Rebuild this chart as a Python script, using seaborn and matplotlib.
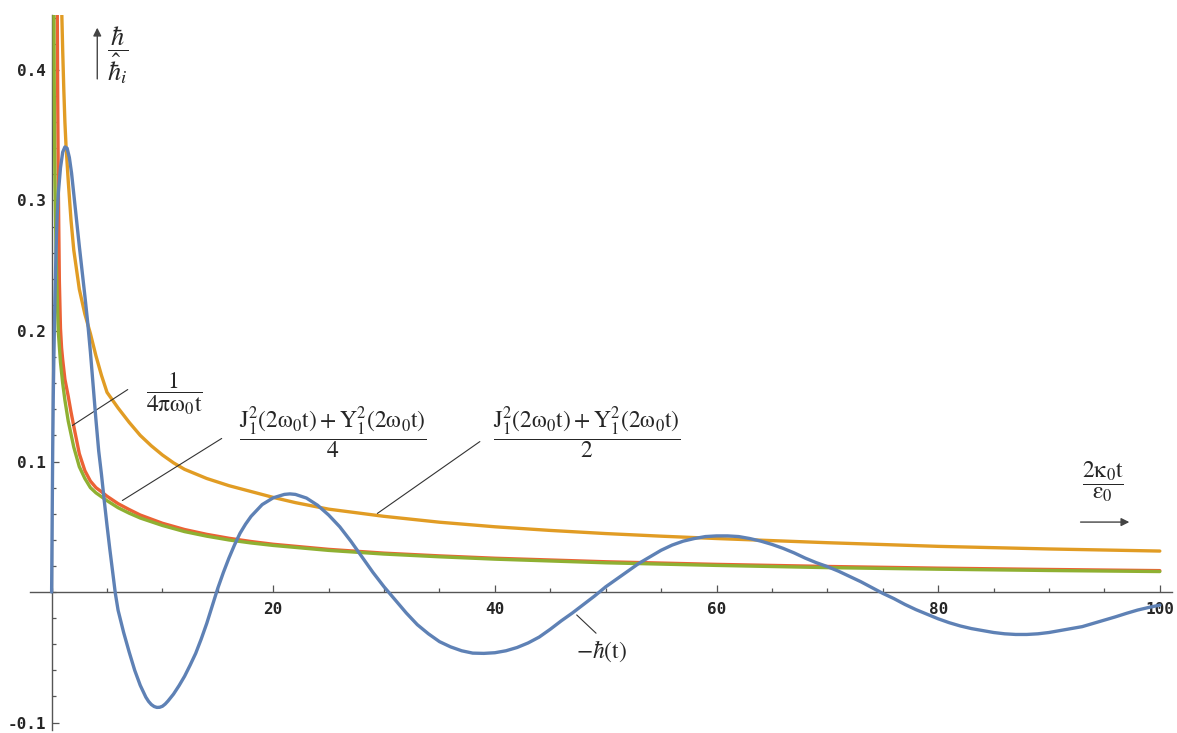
import matplotlib
matplotlib.use("Agg")
import matplotlib.pyplot as plt
import matplotlib.ticker as mticker
import seaborn as sns

# ---------------------------------------------------------------
# values
# ---------------------------------------------------------------
# blue: -hbar(t), oscillating response
blue_t = [0, 0.05, 0.1, 0.15, 0.2, 0.3, 0.4, 0.5, 0.6, 0.8, 1.0, 1.2, 1.4, 1.6, 1.8,
          2.0, 2.25, 2.5, 2.75, 3.0, 3.25, 3.5, 3.75, 4.0, 4.25, 4.5, 4.75, 5.0, 5.25,
          5.5, 5.75, 6.0, 6.5, 7.0, 7.5, 8.0, 8.5, 8.75, 9.0, 9.25, 9.5, 9.75, 10,
          10.25, 10.5, 11, 11.5, 12, 12.5, 13, 13.5, 14, 14.5, 15, 15.5, 16, 16.5, 17,
          17.5, 18, 19, 20, 21, 21.5, 22, 23, 24, 25, 26, 27, 28, 29, 30, 31, 32, 33,
          34, 35, 36, 37, 38, 39, 40, 41, 42, 43, 44, 45, 46, 47, 48, 49, 50, 51, 52,
          53, 54, 55, 56, 57, 58, 59, 60, 61, 62, 63, 64, 65, 66, 67, 68, 69, 70, 71,
          72, 73, 74, 75, 76, 77, 78, 79, 80, 81, 82, 83, 84, 85, 86, 87, 88, 89, 90,
          91, 92, 93, 94, 95, 96, 97, 98, 99, 100]
blue_h = [0, 0.06, 0.11, 0.15, 0.178, 0.225, 0.262, 0.288, 0.305, 0.325, 0.337, 0.341,
          0.340, 0.333, 0.321, 0.305, 0.285, 0.265, 0.246, 0.227, 0.207, 0.184, 0.158,
          0.132, 0.108, 0.090, 0.070, 0.051, 0.033, 0.016, -0.001, -0.014, -0.031,
          -0.046, -0.060, -0.0715, -0.0805, -0.0838, -0.0862, -0.0877, -0.0884,
          -0.0883, -0.0875, -0.0858, -0.0835, -0.0782, -0.0717, -0.0645, -0.056,
          -0.047, -0.036, -0.024, -0.0105, 0.003, 0.015, 0.026, 0.036, 0.045, 0.052,
          0.058, 0.067, 0.0722, 0.0748, 0.0752, 0.0748, 0.072, 0.0665, 0.059, 0.050,
          0.039, 0.027, 0.015, 0.004, -0.006, -0.016, -0.025, -0.032, -0.038, -0.042,
          -0.045, -0.0468, -0.047, -0.0465, -0.045, -0.0425, -0.039, -0.0345, -0.0285,
          -0.022, -0.016, -0.0095, -0.003, 0.004, 0.010, 0.016, 0.022, 0.027, 0.032,
          0.036, 0.039, 0.041, 0.0425, 0.043, 0.043, 0.0425, 0.041, 0.039, 0.0365,
          0.0335, 0.030, 0.026, 0.0225, 0.0195, 0.016, 0.012, 0.008, 0.0035, -0.001,
          -0.005, -0.0095, -0.0135, -0.017, -0.0205, -0.0235, -0.026, -0.028, -0.0295,
          -0.031, -0.032, -0.0325, -0.0325, -0.032, -0.031, -0.0295, -0.028, -0.0265,
          -0.024, -0.0215, -0.019, -0.0163, -0.0138, -0.0118, -0.0100]

# orange: (J1^2 + Y1^2) / 2
orange_t = [0.9, 1.0, 1.1, 1.2, 1.3, 1.5, 1.75, 2.0, 2.5, 3.0, 3.5, 4.0, 4.5, 5.0, 6, 7,
            8, 9, 10, 11, 12, 14, 16, 18, 20, 22, 25, 30, 35, 40, 45, 50, 55, 60, 70,
            80, 90, 100]
orange_h = [0.45, 0.415, 0.385, 0.36, 0.342, 0.315, 0.285, 0.262, 0.232, 0.213, 0.198,
            0.181, 0.166, 0.153, 0.141, 0.13, 0.12, 0.112, 0.105, 0.099, 0.094, 0.087,
            0.0815, 0.077, 0.0725, 0.0685, 0.0635, 0.058, 0.0535, 0.050, 0.0472,
            0.0448, 0.0428, 0.041, 0.0378, 0.035, 0.033, 0.0314]

# red: (J1^2 + Y1^2) / 4
red_t = [0.5, 0.55, 0.6, 0.7, 0.8, 0.9, 1.0, 1.2, 1.5, 1.75, 2.0, 2.5, 3.0, 3.5, 4.0,
         4.5, 5, 6, 7, 8, 10, 12, 14, 16, 18, 20, 25, 30, 35, 40, 50, 60, 70, 80, 90, 100]
red_h = [0.46, 0.38, 0.315, 0.238, 0.202, 0.187, 0.178, 0.163, 0.150, 0.138, 0.127,
         0.106, 0.093, 0.085, 0.0800, 0.0768, 0.0734, 0.0677, 0.0632, 0.0590, 0.0527,
         0.0479, 0.0442, 0.0412, 0.0387, 0.0366, 0.0327, 0.0298, 0.0277, 0.0259, 0.0232,
         0.0212, 0.0196, 0.0183, 0.0173, 0.0164]

# green: 1 / (4 pi w0 t)
green_t = [0.2, 0.25, 0.3, 0.4, 0.5, 0.6, 0.8, 1.0, 1.2, 1.5, 2.0, 2.5, 3.0, 3.5, 4.0,
           4.5, 5.0, 6, 7, 8, 10, 12, 14, 16, 18, 20, 25, 30, 35, 40, 50, 60, 70, 80,
           90, 100]
green_h = [0.46, 0.37, 0.315, 0.262, 0.228, 0.2, 0.176, 0.16, 0.147, 0.131, 0.111,
           0.096, 0.087, 0.0800, 0.0760, 0.0730, 0.0700, 0.0646, 0.0604, 0.0567, 0.0510,
           0.0463, 0.0428, 0.0399, 0.0376, 0.0357, 0.0319, 0.0291, 0.0270, 0.0252,
           0.0224, 0.0204, 0.0187, 0.0175, 0.0165, 0.0157]

x_ticks = [20, 40, 60, 80, 100]
x_tick_labels = ["20", "40", "60", "80", "100"]
y_ticks = [-0.1, 0.1, 0.2, 0.3, 0.4]
y_tick_labels = ["-0.1", "0.1", "0.2", "0.3", "0.4"]

BLUE = "#5E81B5"
ORANGE = "#E19C24"
GREEN = "#8FB032"
RED = "#EB6235"
AXIS_GRAY = "#555555"

sns.set_style("white")
plt.rcParams["font.family"] = ["DejaVu Sans"]
plt.rcParams["mathtext.fontset"] = "stix"

fig = plt.figure(figsize=(11.77, 7.33), dpi=100)
ax = fig.add_axes([30 / 1177, 3 / 733, (1172 - 30) / 1177, (730 - 15) / 733])

# -------------------------------
# curves
# -------------------------------
lw = 2.4
sns.lineplot(x=orange_t, y=orange_h, ax=ax, color=ORANGE, linewidth=lw,
             estimator=None, sort=False, zorder=3)
sns.lineplot(x=red_t, y=red_h, ax=ax, color=RED, linewidth=lw,
             estimator=None, sort=False, zorder=3)
sns.lineplot(x=green_t, y=green_h, ax=ax, color=GREEN, linewidth=lw,
             estimator=None, sort=False, zorder=4)
sns.lineplot(x=blue_t, y=blue_h, ax=ax, color=BLUE, linewidth=lw,
             estimator=None, sort=False, zorder=5)

ax.set_xlim(-1.95, 101.1)
ax.set_ylim(-0.1057, 0.4421)

# -------------------------------
# Mathematica style axes through the origin
# -------------------------------
for side in ["top", "right"]:
    ax.spines[side].set_visible(False)
ax.spines["left"].set_position(("data", 0))
ax.spines["bottom"].set_position(("data", 0))
for side in ["left", "bottom"]:
    ax.spines[side].set_color(AXIS_GRAY)
    ax.spines[side].set_linewidth(1.0)

ax.xaxis.set_major_locator(mticker.FixedLocator(x_ticks))
ax.xaxis.set_major_formatter(mticker.FixedFormatter(x_tick_labels))
ax.xaxis.set_minor_locator(mticker.MultipleLocator(5))
ax.yaxis.set_major_locator(mticker.FixedLocator(y_ticks))
ax.yaxis.set_major_formatter(mticker.FixedFormatter(y_tick_labels))
ax.yaxis.set_minor_locator(mticker.MultipleLocator(0.02))

ax.tick_params(which="both", bottom=True, left=True, direction="in",
               color=AXIS_GRAY, width=0.9)
ax.tick_params(which="major", length=5)
ax.tick_params(which="minor", length=3)
ax.tick_params(axis="x", which="major", pad=7)
ax.tick_params(axis="y", which="major", pad=4)
for lab in ax.get_xticklabels() + ax.get_yticklabels():
    lab.set_family("DejaVu Sans Mono")
    lab.set_weight("bold")
    lab.set_fontsize(11.5)
ax.set_xlabel("")
ax.set_ylabel("")

# -------------------------------
# labels with leader lines
# -------------------------------
fs = 17
leader = dict(arrowstyle="-", color="#333333", lw=0.8)

ax.annotate("", xy=(1.66, 0.1264), xytext=(7.08, 0.1563), arrowprops=leader)
ax.text(11.05, 0.152, r"$\dfrac{\mathrm{1}}{\mathrm{4\pi\omega_0t}}$",
        fontsize=fs, ha="center", va="center")

ax.annotate("", xy=(6.17, 0.069), xytext=(15.56, 0.1188), arrowprops=leader)
ax.text(25.4, 0.1215,
        r"$\dfrac{\mathrm{J_1^2(2\omega_0t) + Y_1^2(2\omega_0t)}}{\mathrm{4}}$",
        fontsize=fs, ha="center", va="center")

ax.annotate("", xy=(29.19, 0.059), xytext=(38.85, 0.1165), arrowprops=leader)
ax.text(48.3, 0.1215,
        r"$\dfrac{\mathrm{J_1^2(2\omega_0t) + Y_1^2(2\omega_0t)}}{\mathrm{2}}$",
        fontsize=fs, ha="center", va="center")

ax.annotate("", xy=(47.2, -0.0161), xytext=(49.31, -0.033), arrowprops=leader)
ax.text(49.6, -0.0455, r"$-\hbar(\mathrm{t})$", fontsize=fs, ha="center", va="center")

# axis captions with arrows
ax.text(94.9, 0.0843, r"$\dfrac{\mathrm{2\kappa_0t}}{\mathrm{\varepsilon_0}}$",
        fontsize=fs, ha="center", va="center")
ax.annotate("", xy=(97.5, 0.0536), xytext=(92.6, 0.0536),
            arrowprops=dict(arrowstyle="-|>", color="#444444", lw=1.0, mutation_scale=12))

ax.text(5.95, 0.4115, r"$\dfrac{\hbar}{\hat{\hbar}_i}$", fontsize=19,
        ha="center", va="center")
ax.annotate("", xy=(4.12, 0.4345), xytext=(4.12, 0.391),
            arrowprops=dict(arrowstyle="-|>", color="#444444", lw=1.0, mutation_scale=12))

fig.savefig("out.png", dpi=100, facecolor="white")
